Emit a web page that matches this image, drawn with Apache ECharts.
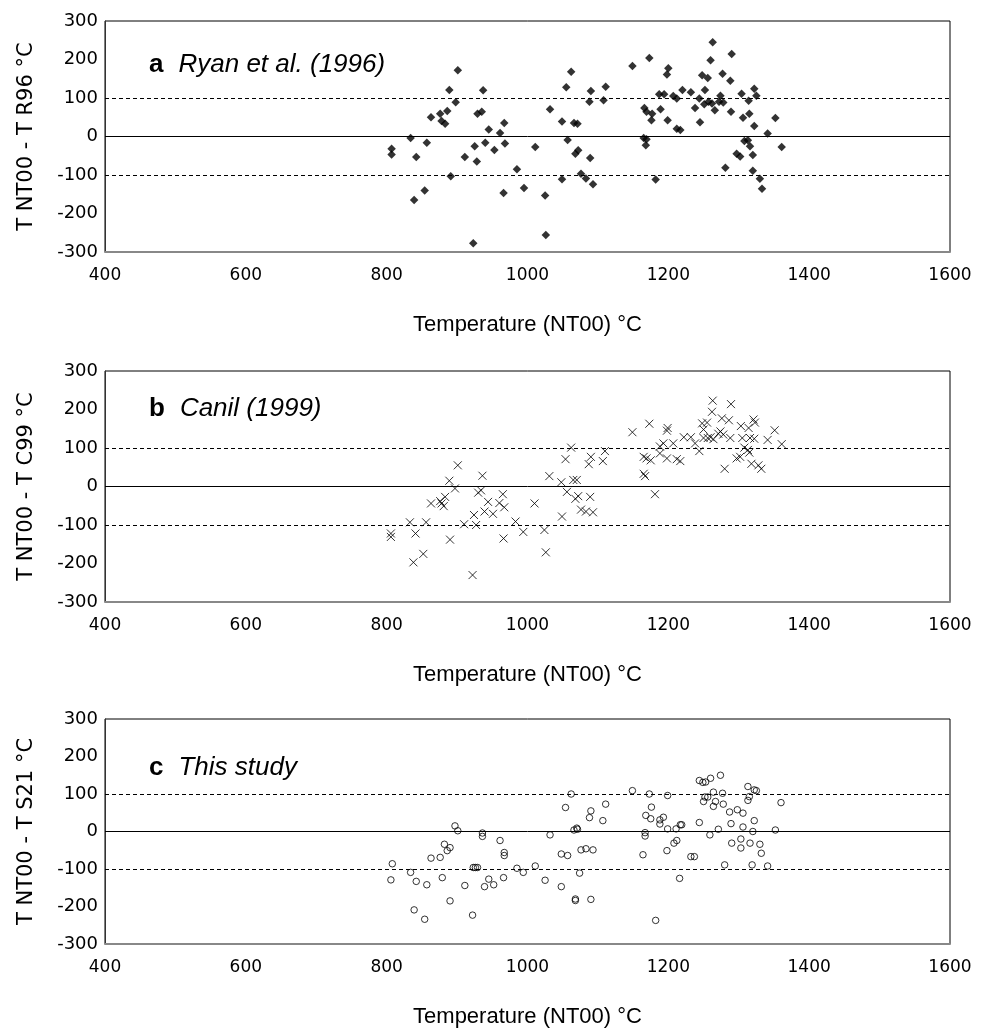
<!DOCTYPE html>
<html>
<head>
<meta charset="utf-8">
<title>NT00 comparison</title>
<script src="https://cdn.jsdelivr.net/npm/echarts@6/dist/echarts.min.js"></script>
<style>
html,body{margin:0;padding:0;background:#fff;}
#main{width:993px;height:1029px;}
</style>
</head>
<body>
<div id="main"></div>
<script>
// 轴刻度
var xTicks = [400, 1600, 200];
var yTicks = [-300, 300, 100];
var refLines = [100, 0, -100];

// 面板标题
var panelKeys = ['a', 'b', 'c'];
var panelNames = ['Ryan et al. (1996)', 'Canil (1999)', 'This study'];
var yNames = ['T NT00 - T R96 °C', 'T NT00 - T C99 °C', 'T NT00 - T S21 °C'];
var xName = 'Temperature (NT00) °C';

// a: Ryan et al. (1996)  [T NT00, 差值]
var ryanPoints = [
    [807,-32],[807,-47],[834,-4],[842,-53],[839,-165],[854,-140],[857,-16],[863,50],[876,59],[878,40],
    [883,33],[886,66],[889,121],[898,89],[901,172],[891,-103],[911,-53],[923,-277],[925,-25],[928,-65],
    [929,59],[935,64],[937,120],[940,-16],[945,18],[953,-35],[961,9],[967,35],[968,-18],[966,-147],
    [985,-85],[995,-134],[1011,-27],[1025,-153],[1026,-256],[1032,71],[1049,39],[1049,-111],[1055,128],[1062,168],
    [1057,-9],[1066,35],[1071,33],[1068,-45],[1072,-36],[1076,-97],[1083,-109],[1093,-124],[1089,-56],[1088,90],
    [1090,118],[1108,94],[1111,129],[1149,183],[1173,204],[1200,177],[1198,161],[1166,74],[1169,64],[1177,59],
    [1176,42],[1189,71],[1199,42],[1165,-4],[1169,-7],[1168,-23],[1182,-112],[1187,110],[1194,110],[1207,105],
    [1212,20],[1212,99],[1217,17],[1220,121],[1232,115],[1238,74],[1244,99],[1245,37],[1248,159],[1252,121],
    [1256,152],[1251,84],[1257,90],[1262,86],[1260,198],[1263,245],[1266,68],[1274,106],[1272,90],[1278,88],
    [1277,163],[1290,214],[1288,145],[1289,64],[1281,-81],[1297,-45],[1302,-52],[1304,111],[1306,49],[1308,-12],
    [1313,-10],[1315,59],[1314,93],[1316,-25],[1320,-48],[1322,124],[1325,106],[1322,27],[1320,-89],[1330,-110],
    [1333,-136],[1341,8],[1352,48],[1361,-27]
];
// b: Canil (1999)
var canilPoints = [
    [806,-122],[806,-131],[833,-93],[841,-122],[838,-197],[852,-175],[856,-93],[863,-44],[876,-38],[878,-44],
    [881,-51],[883,-27],[889,15],[897,-5],[901,55],[890,-138],[910,-98],[922,-230],[924,-74],[927,-100],
    [930,-16],[934,-10],[936,28],[939,-65],[944,-40],[951,-71],[960,-43],[965,-20],[967,-54],[966,-135],
    [983,-91],[994,-118],[1010,-44],[1024,-113],[1026,-171],[1031,27],[1048,11],[1049,-78],[1054,71],[1062,101],
    [1056,-14],[1065,17],[1070,17],[1068,-32],[1072,-25],[1076,-60],[1083,-65],[1093,-67],[1089,-27],[1087,58],
    [1090,77],[1107,66],[1110,92],[1149,141],[1173,163],[1199,152],[1198,145],[1165,77],[1169,73],[1175,68],
    [1188,86],[1198,73],[1165,33],[1167,27],[1181,-20],[1188,104],[1193,112],[1207,112],[1212,71],[1217,66],
    [1222,128],[1232,128],[1238,112],[1244,92],[1248,164],[1250,148],[1255,166],[1250,126],[1256,126],[1260,128],
    [1264,123],[1262,194],[1263,223],[1271,137],[1274,143],[1278,135],[1276,177],[1286,172],[1289,214],[1288,126],
    [1280,46],[1297,73],[1302,77],[1303,157],[1305,126],[1308,101],[1313,95],[1315,88],[1316,126],[1314,152],
    [1321,174],[1323,166],[1322,124],[1318,59],[1328,55],[1332,46],[1341,121],[1351,146],[1361,110]
];
// c: This study
var studyPoints = [
    [808,-86],[806,-129],[834,-109],[842,-133],[839,-209],[854,-234],[857,-142],[863,-71],[876,-69],[879,-123],
    [882,-34],[886,-51],[890,-43],[897,15],[901,2],[890,-185],[911,-144],[922,-223],[923,-96],[926,-96],
    [929,-96],[936,-4],[936,-13],[939,-147],[945,-127],[952,-142],[961,-24],[967,-56],[967,-64],[966,-123],
    [985,-98],[994,-109],[1011,-92],[1025,-130],[1032,-9],[1048,-60],[1057,-64],[1048,-147],[1054,64],[1062,100],
    [1066,4],[1070,9],[1071,6],[1068,-180],[1068,-184],[1074,-111],[1076,-49],[1083,-46],[1093,-49],[1090,-181],
    [1088,37],[1090,55],[1107,29],[1111,73],[1149,109],[1173,100],[1199,96],[1176,65],[1168,43],[1175,34],
    [1188,31],[1193,38],[1188,20],[1199,7],[1211,7],[1167,-3],[1167,-12],[1164,-62],[1182,-237],[1198,-51],
    [1208,-31],[1212,-24],[1217,18],[1216,-125],[1219,18],[1232,-67],[1237,-67],[1244,24],[1244,136],[1249,131],
    [1253,132],[1260,142],[1274,150],[1252,92],[1256,92],[1250,80],[1264,105],[1267,80],[1264,67],[1277,102],
    [1278,73],[1259,-9],[1271,6],[1287,52],[1289,21],[1298,58],[1306,49],[1306,12],[1320,0],[1322,29],
    [1290,-31],[1303,-20],[1303,-44],[1316,-31],[1330,-34],[1332,-58],[1280,-89],[1319,-89],[1341,-92],[1352,4],
    [1360,77],[1313,120],[1322,111],[1325,109],[1315,93],[1313,83]
];
var allPoints = [ryanPoints, canilPoints, studyPoints];

//图形位置
var gridTops = [21, 371, 719];
var titleTops = [50, 394, 753];
var numFont = 'DejaVu Sans';
var txtFont = 'Liberation Sans';

//符号样式
var symbolCfg = [
    {symbol: 'diamond', symbolSize: 8.5, itemStyle: {color: '#000'}},
    {symbol: 'path://M0,0L10,10M10,0L0,10', symbolSize: 8,
        itemStyle: {color: 'rgba(0,0,0,0)', borderColor: '#000', borderWidth: 1}},
    {symbol: 'circle', symbolSize: 6.5,
        itemStyle: {color: 'rgba(0,0,0,0)', borderColor: '#000', borderWidth: 1}}
];

function buildMarkLine() {
    var arr = [];
    for (var i = 0; i < refLines.length; i++) {
        arr.push({
            yAxis: refLines[i],
            lineStyle: {color: '#000', width: 1, type: refLines[i] == 0 ? 'solid' : [4, 3]}
        });
    }
    return {silent: true, symbol: 'none', label: {show: false}, animation: false, data: arr};
}

var grids = [], xAxes = [], yAxes = [], series = [], titles = [];
for (var i = 0; i < 3; i++) {
    grids.push({
        left: 105, width: 845, top: gridTops[i], height: 231,
        show: true, borderColor: '#000', borderWidth: 1, backgroundColor: '#fff'
    });
    xAxes.push({
        type: 'value', gridIndex: i,
        min: xTicks[0], max: xTicks[1], interval: xTicks[2],
        name: xName, nameLocation: 'middle', nameGap: 62,
        nameTextStyle: {fontFamily: txtFont, fontSize: 22, color: '#000'},
        axisLine: {show: true, onZero: false, lineStyle: {color: '#888', width: 2}},
        axisTick: {show: false},
        splitLine: {show: false},
        axisLabel: {fontFamily: numFont, fontSize: 17, color: '#000', margin: 15,
            formatter: function (v) { return String(v); }}
    });
    yAxes.push({
        type: 'value', gridIndex: i,
        min: yTicks[0], max: yTicks[1], interval: yTicks[2],
        name: yNames[i], nameLocation: 'middle', nameGap: 68,
        nameTextStyle: {fontFamily: numFont, fontSize: 21, color: '#000'},
        axisLine: {show: true, lineStyle: {color: '#333', width: 1}},
        axisTick: {show: false},
        splitLine: {show: false},
        axisLabel: {fontFamily: numFont, fontSize: 18, color: '#000', margin: 7,
            formatter: function (v) { return String(v); }}
    });
    series.push({
        type: 'scatter',
        xAxisIndex: i, yAxisIndex: i,
        symbol: symbolCfg[i].symbol,
        symbolSize: symbolCfg[i].symbolSize,
        itemStyle: symbolCfg[i].itemStyle,
        data: allPoints[i],
        markLine: buildMarkLine(),
        animation: false
    });
    titles.push({
        left: 149, top: titleTops[i], padding: 0,
        text: '{b|' + panelKeys[i] + '}{i|' + panelNames[i] + '}',
        textStyle: {
            fontWeight: 'normal',
            rich: {
                b: {fontFamily: txtFont, fontWeight: 'bold', fontSize: 26, color: '#000', lineHeight: 30, padding: [0, 15, 0, 0]},
                i: {fontFamily: txtFont, fontStyle: 'italic', fontWeight: 'normal', fontSize: 26, color: '#000', lineHeight: 30}
            }
        }
    });
}

var chart = echarts.init(document.getElementById('main'));
chart.setOption({
    backgroundColor: '#fff',
    animation: false,
    title: titles,
    grid: grids,
    xAxis: xAxes,
    yAxis: yAxes,
    series: series
});
</script>
</body>
</html>
